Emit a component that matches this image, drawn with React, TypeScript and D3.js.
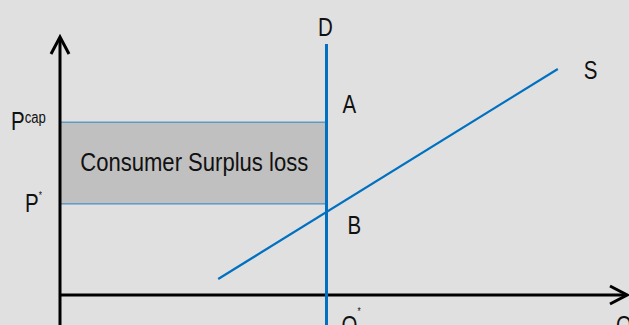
import * as React from "react";
import * as d3 from "d3";

// economic units: quantity 0..100 along x, price 0..100 along y
const qStar = 47;
const demandP = [97.3, -11.6];
const pCap = 67;
const pStar = 35.3;
const supplyQ = [27.9, 87.8];
const supplyP = [6.2, 87.6];

const W = 629;
const H = 325;
const FONT = "'Liberation Sans', Arial, sans-serif";
const BLUE = "#0070c0";
const NARROW = 0.82;

// arial narrow is not installed, so squeeze liberation sans sideways
function Narrow(props: { x: number; y: number; anchor?: string; children: React.ReactNode }) {
  return (
    <text
      transform={`translate(${props.x},${props.y}) scale(${NARROW},1)`}
      textAnchor={props.anchor ?? "start"}
    >
      {props.children}
    </text>
  );
}

export default function App() {
  const x = d3.scaleLinear().domain([0, 100]).range([60, 627]);
  const y = d3.scaleLinear().domain([0, 100]).range([295, 37]);

  const supplyLine = d3
    .line<number>()
    .x((d, i) => x(supplyQ[i]))
    .y((d) => y(d));

  const x0 = x(0);
  const y0 = y(0);

  return (
    <svg
      width={W}
      height={H}
      style={{ position: "absolute", left: 0, top: 0 }}
      fontFamily={FONT}
    >
      <rect width={W} height={H} fill="#e0e0e0" />

      {/* consumer surplus loss area */}
      <rect
        x={x0 + 1}
        y={y(pCap)}
        width={x(qStar) - x0 - 1}
        height={y(pStar) - y(pCap)}
        fill="#c0c0c0"
      />
      <line x1={x0} x2={x(qStar)} y1={y(pCap)} y2={y(pCap)} stroke={BLUE} strokeWidth={1} opacity={0.8} />
      <line x1={x0} x2={x(qStar)} y1={y(pStar)} y2={y(pStar)} stroke={BLUE} strokeWidth={1} opacity={0.8} />

      {/* axes */}
      <line x1={x0} x2={x0} y1={H} y2={y(100) + 1} stroke="#000" strokeWidth={3} />
      <path
        d={`M${x0 - 9},${y(100) + 17}L${x0},${y(100)}L${x0 + 9},${y(100) + 17}`}
        fill="none"
        stroke="#000"
        strokeWidth={3}
      />
      <line x1={x0} x2={x(100) - 1} y1={y0} y2={y0} stroke="#000" strokeWidth={3} />
      <path
        d={`M${x(100) - 17},${y0 - 9}L${x(100)},${y0}L${x(100) - 17},${y0 + 9}`}
        fill="none"
        stroke="#000"
        strokeWidth={3}
      />

      {/* supply and demand */}
      <path d={supplyLine(supplyP) ?? ""} fill="none" stroke={BLUE} strokeWidth={2.2} />
      <line
        x1={x(qStar)}
        x2={x(qStar)}
        y1={y(demandP[0])}
        y2={y(demandP[1])}
        stroke={BLUE}
        strokeWidth={3}
      />

      {/* labels */}
      <g fontSize={25} fill="#111">
        <text
          x={(x0 + x(qStar)) / 2 + 1}
          y={(y(pCap) + y(pStar)) / 2 + 8}
          fontSize={26.5}
          textAnchor="middle"
          textLength={228}
          lengthAdjust="spacingAndGlyphs"
        >
          Consumer Surplus loss
        </text>
        <Narrow x={x(qStar) - 1} y={36} anchor="middle">D</Narrow>
        <Narrow x={x(supplyQ[1]) + 26} y={79}>S</Narrow>
        <Narrow x={x(qStar) + 16} y={113}>A</Narrow>
        <Narrow x={x(qStar) + 21} y={234}>B</Narrow>
        <Narrow x={11} y={130}>
          P<tspan fontSize={16} dy={-7}>cap</tspan>
        </Narrow>
        <Narrow x={25} y={212}>
          P<tspan fontSize={10} dy={-13}>*</tspan>
        </Narrow>
        <Narrow x={x(qStar) + 15} y={334}>
          Q<tspan fontSize={10} dy={-19}>*</tspan>
        </Narrow>
        <Narrow x={x(100) - 11} y={334}>Q</Narrow>
      </g>
    </svg>
  );
}
